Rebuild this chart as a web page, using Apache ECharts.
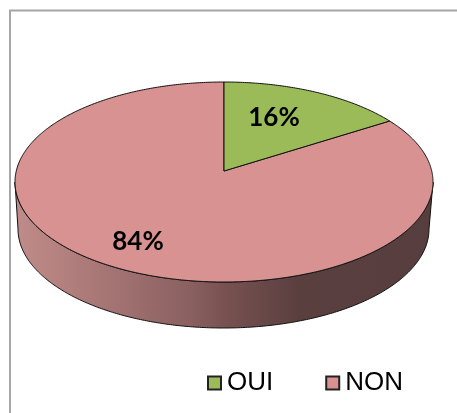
<!DOCTYPE html>
<html><head><meta charset="utf-8">
<style>html,body{margin:0;padding:0;background:#fff}#c{width:457px;height:413px}</style>
<script src="https://cdn.jsdelivr.net/npm/echarts@6/dist/echarts.min.js"></script>
</head><body><div id="c"></div>
<script>
const categories = ['OUI', 'NON'];
const shares = [16, 84];
const colors = ['#9bbb59', '#d79291'];

const total = shares.reduce((a, b) => a + b, 0);
const topE = {cx: 224, cy: 182, rx: 209, ry: 100};
const botE = {cx: 223.5, cy: 229, rx: 205.5, ry: 99};
const tilt = 0.11; // perspective shift of the pie centre on screen

function project(e, theta, r) {
  const u = r * Math.sin(theta), v = r * Math.cos(theta);
  const d = 1 + tilt * v;
  return [e.cx + e.rx * u * Math.sqrt(1 - tilt * tilt) / d, e.cy - e.ry * (v + tilt) / d];
}
function arc(e, a0, a1) {
  const n = Math.max(2, Math.ceil((a1 - a0) / 0.01)), pts = [];
  for (let i = 0; i <= n; i++) pts.push(project(e, a0 + (a1 - a0) * i / n, 1));
  return pts;
}
function angleRange(idx) {
  let s = 0;
  for (let i = 0; i < idx; i++) s += shares[i];
  return [s / total * 2 * Math.PI, (s + shares[idx]) / total * 2 * Math.PI];
}
const frontStart = Math.PI - Math.acos(tilt), frontEnd = Math.PI + Math.acos(tilt);

function renderSlice(idx) {
  return function () {
    const [a0, a1] = angleRange(idx);
    const children = [];
    const f0 = Math.max(a0, frontStart), f1 = Math.min(a1, frontEnd);
    if (f1 > f0) {
      const wall = arc(topE, f0, f1).concat(arc(botE, f0, f1).reverse());
      children.push({
        type: 'polygon', shape: {points: wall},
        style: {
          fill: new echarts.graphic.LinearGradient(0, 0, 1, 0, [
            {offset: 0, color: '#c08c8a'},
            {offset: 0.1, color: '#b58280'},
            {offset: 0.42, color: '#8a6060'},
            {offset: 0.5, color: '#785251'},
            {offset: 0.68, color: '#5a3f3f'},
            {offset: 1, color: '#573e3e'}
          ]),
          stroke: '#111', lineWidth: 1
        }
      });
    }
    const top = [project(topE, 0, 0)].concat(arc(topE, a0, a1));
    children.push({
      type: 'polygon', shape: {points: top},
      style: {fill: colors[idx], stroke: '#111', lineWidth: 1, lineJoin: 'round'}
    });
    return {type: 'group', children};
  };
}

const labelAnchors = [[274, 118], [138, 242]];
const chart = echarts.init(document.getElementById('c'), null, {renderer: 'canvas'});
const series = [1, 0].map(i => ({
  type: 'custom',
  name: categories[i],
  coordinateSystem: 'none',
  data: [shares[i]],
  itemStyle: {color: colors[i]},
  renderItem: renderSlice(i),
  silent: true,
  animation: false
}));
chart.setOption({
  animation: false,
  backgroundColor: '#fff',
  legend: {
    data: categories,
    left: 207,
    top: 370,
    icon: 'rect',
    itemWidth: 13,
    itemHeight: 13,
    itemGap: 52,
    padding: 0,
    selectedMode: false,
    itemStyle: {borderColor: '#222', borderWidth: 2},
    textStyle: {fontFamily: 'Liberation Sans', fontSize: 26, color: '#000', padding: [0, 0, 0, 1]}
  },
  graphic: [
    {type: 'rect', silent: true, z: -1,
     shape: {x: 10, y: 10.5, width: 600, height: 600},
     style: {fill: '#fff', stroke: '#a6a6a6', lineWidth: 2}}
  ].concat(shares.map((v, i) => ({
    type: 'text', silent: true, z: 100,
    x: labelAnchors[i][0], y: labelAnchors[i][1],
    style: {text: v + '%', fontFamily: 'Lato', fontWeight: 'bold', fontSize: 26, fill: '#000', align: 'center', verticalAlign: 'middle'}
  }))),
  series
});
</script></body></html>
